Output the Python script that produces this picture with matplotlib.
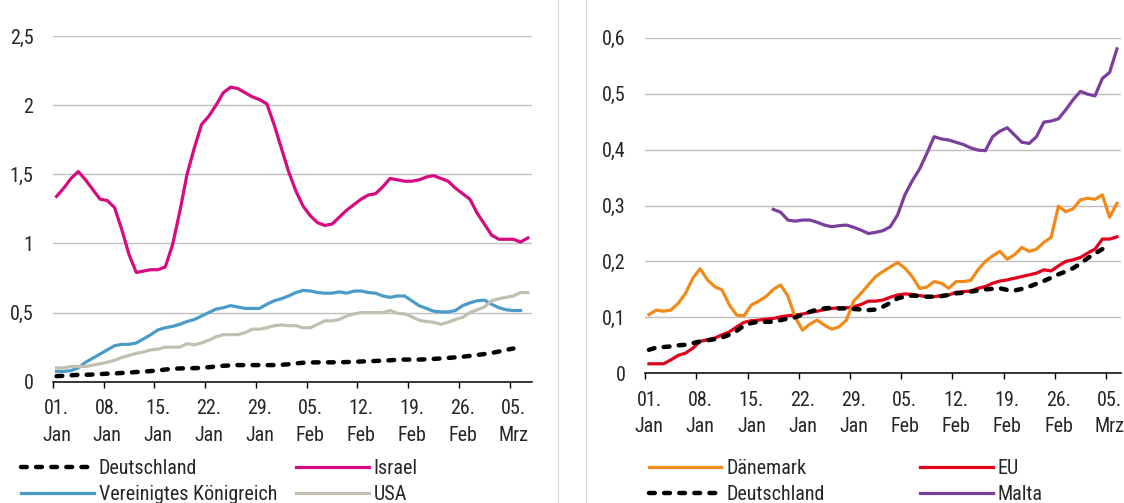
import matplotlib
matplotlib.use('Agg')
import matplotlib.pyplot as plt
from matplotlib.lines import Line2D
from matplotlib.legend import Legend
from matplotlib import font_manager as fm
import numpy as np

W, H = 1124, 503

# ---------------- data ----------------
xtick_labels = ["01.\nJan", "08.\nJan", "15.\nJan", "22.\nJan", "29.\nJan",
                "05.\nFeb", "12.\nFeb", "19.\nFeb", "26.\nFeb", "05.\nMrz"]

left_ytick_values = [0, 0.5, 1, 1.5, 2, 2.5]
left_ytick_labels = ["0", "0,5", "1", "1,5", "2", "2,5"]
right_ytick_values = [0, 0.1, 0.2, 0.3, 0.4, 0.5, 0.6]
right_ytick_labels = ["0", "0,1", "0,2", "0,3", "0,4", "0,5", "0,6"]

israel = [1.34, 1.40, 1.47, 1.52, 1.46, 1.39, 1.32, 1.31, 1.26, 1.10,
          0.92, 0.79, 0.80, 0.81, 0.81, 0.83, 0.99, 1.23, 1.50, 1.69,
          1.86, 1.92, 2.00, 2.09, 2.13, 2.12, 2.09, 2.06, 2.04, 2.01,
          1.86, 1.69, 1.52, 1.38, 1.27, 1.20, 1.15, 1.13, 1.14, 1.19,
          1.24, 1.28, 1.32, 1.35, 1.36, 1.41, 1.47, 1.46, 1.45, 1.45,
          1.46, 1.48, 1.49, 1.47, 1.45, 1.40, 1.36, 1.32, 1.22, 1.14,
          1.06, 1.03, 1.03, 1.03, 1.01, 1.04]

uk = [0.075, 0.075, 0.08, 0.10, 0.14, 0.17, 0.20, 0.23, 0.26, 0.27,
      0.27, 0.28, 0.31, 0.34, 0.375, 0.39, 0.40, 0.415, 0.435, 0.45,
      0.475, 0.50, 0.525, 0.535, 0.55, 0.54, 0.53, 0.53, 0.53, 0.56,
      0.585, 0.60, 0.62, 0.645, 0.66, 0.656, 0.645, 0.64, 0.64, 0.65,
      0.64, 0.655, 0.656, 0.645, 0.64, 0.62, 0.61, 0.62, 0.62, 0.585,
      0.55, 0.53, 0.51, 0.505, 0.505, 0.515, 0.55, 0.57, 0.585, 0.59,
      0.56, 0.535, 0.52, 0.515, 0.515]

usa = [0.10, 0.10, 0.11, 0.11, 0.11, 0.12, 0.13, 0.14, 0.155, 0.175,
       0.19, 0.205, 0.215, 0.23, 0.235, 0.25, 0.25, 0.25, 0.275, 0.267,
       0.28, 0.30, 0.325, 0.34, 0.34, 0.34, 0.355, 0.38, 0.38, 0.39,
       0.405, 0.41, 0.405, 0.405, 0.39, 0.39, 0.415, 0.44, 0.44, 0.45,
       0.475, 0.49, 0.50, 0.50, 0.50, 0.50, 0.515, 0.495, 0.49, 0.47,
       0.445, 0.435, 0.43, 0.415, 0.43, 0.45, 0.465, 0.50, 0.52, 0.54,
       0.585, 0.60, 0.61, 0.62, 0.645, 0.645]

deutschland_left = [0.04, 0.043, 0.046, 0.05, 0.05, 0.052, 0.055, 0.058, 0.06, 0.063,
                    0.066, 0.07, 0.073, 0.077, 0.082, 0.088, 0.093, 0.096, 0.097, 0.098,
                    0.10, 0.105, 0.11, 0.115, 0.118, 0.12, 0.12, 0.12, 0.12, 0.12,
                    0.12, 0.122, 0.126, 0.132, 0.137, 0.139, 0.14, 0.14, 0.14, 0.141,
                    0.142, 0.144, 0.146, 0.148, 0.15, 0.152, 0.155, 0.158, 0.16, 0.16,
                    0.16, 0.162, 0.165, 0.168, 0.172, 0.176, 0.18, 0.187, 0.193, 0.20,
                    0.208, 0.218, 0.23, 0.24]

daenemark = [0.105, 0.113, 0.111, 0.113, 0.125, 0.143, 0.17, 0.187, 0.167, 0.155,
             0.149, 0.122, 0.104, 0.103, 0.122, 0.129, 0.137, 0.15, 0.158, 0.138,
             0.10, 0.077, 0.088, 0.095, 0.086, 0.079, 0.083, 0.095, 0.129, 0.143,
             0.158, 0.173, 0.182, 0.19, 0.198, 0.188, 0.173, 0.152, 0.154, 0.164,
             0.161, 0.152, 0.164, 0.164, 0.166, 0.185, 0.20, 0.21, 0.218, 0.204,
             0.212, 0.225, 0.218, 0.222, 0.234, 0.243, 0.299, 0.289, 0.294, 0.31,
             0.313, 0.311, 0.319, 0.279, 0.304]

eu = [0.017, 0.017, 0.017, 0.024, 0.032, 0.036, 0.045, 0.057, 0.06, 0.063,
      0.069, 0.074, 0.083, 0.091, 0.094, 0.095, 0.097, 0.098, 0.101, 0.103,
      0.104, 0.106, 0.109, 0.111, 0.114, 0.116, 0.117, 0.117, 0.119, 0.123,
      0.129, 0.129, 0.131, 0.136, 0.14, 0.142, 0.141, 0.139, 0.137, 0.137,
      0.139, 0.14, 0.145, 0.146, 0.147, 0.152, 0.155, 0.161, 0.165, 0.167,
      0.17, 0.173, 0.176, 0.179, 0.185, 0.183, 0.192, 0.2, 0.203, 0.207,
      0.215, 0.222, 0.24, 0.24, 0.244]

deutschland_right = [0.042, 0.046, 0.047, 0.048, 0.05, 0.051, 0.054, 0.057, 0.059, 0.061,
                     0.064, 0.069, 0.076, 0.085, 0.09, 0.092, 0.092, 0.092, 0.095, 0.098,
                     0.10, 0.105, 0.11, 0.114, 0.116, 0.117, 0.116, 0.116, 0.115, 0.114,
                     0.113, 0.114, 0.119, 0.126, 0.134, 0.137, 0.139, 0.138, 0.137, 0.137,
                     0.138, 0.14, 0.143, 0.144, 0.146, 0.148, 0.15, 0.151, 0.152, 0.149,
                     0.148, 0.151, 0.155, 0.16, 0.165, 0.171, 0.177, 0.182, 0.188, 0.196,
                     0.206, 0.214, 0.222, 0.229]

malta_first_day = 17
malta = [0.293, 0.288, 0.274, 0.272,
         0.274, 0.274, 0.27, 0.265, 0.262, 0.264, 0.265, 0.261, 0.256,
         0.25, 0.252, 0.255, 0.262, 0.283, 0.319, 0.344, 0.365, 0.393, 0.423,
         0.419, 0.417, 0.413, 0.409, 0.403, 0.399, 0.398, 0.423, 0.433, 0.439,
         0.426, 0.413, 0.411, 0.423, 0.449, 0.451, 0.455, 0.471, 0.489, 0.504,
         0.499, 0.496, 0.527, 0.538, 0.58]

left_days = 66
right_days = 65

# ---------------- fonts ----------------
names = {f.name for f in fm.fontManager.ttflist}
if 'Roboto Condensed' in names:
    FAMILY = ['Roboto Condensed', 'DejaVu Sans']
    FS = 14.5
else:
    FAMILY = ['Liberation Sans', 'DejaVu Sans']
    FS = 12.5
plt.rcParams['font.family'] = FAMILY
TXT = '#262626'

C_ISR = '#D70A80'
C_UK = '#4A9BC7'
C_USA = '#C2BFB1'
C_DEN = '#F28A1A'
C_EU = '#E2001A'
C_MAL = '#7A3E9D'

fig = plt.figure(figsize=(W / 100, H / 100), dpi=100)
ax1 = fig.add_axes([52.9 / W, 1 - 381.7 / H, (531.5 - 52.9) / W, (381.7 - 36) / H])
ax2 = fig.add_axes([645.3 / W, 1 - 373.3 / H, (1120.6 - 645.3) / W, (373.3 - 37.7) / H])


def style(ax, n_days, yvals, ylabels):
    ax.set_xlim(-0.5, n_days - 0.5)
    ax.set_ylim(yvals[0], yvals[-1])
    ax.set_yticks(yvals)
    ax.set_yticklabels(ylabels)
    ax.grid(axis='y', color='#BFBFBF', lw=1.0)
    ax.set_axisbelow(True)
    for s in ['left', 'right', 'top']:
        ax.spines[s].set_visible(False)
    ax.spines['bottom'].set_color('#000000')
    ax.spines['bottom'].set_linewidth(1.1)
    ax.tick_params(axis='y', length=0, pad=14, labelsize=FS, labelcolor=TXT)
    major = np.arange(-0.5, n_days - 0.5, 7)
    ax.set_xticks(major)
    ax.set_xticklabels([''] * len(major))
    ax.tick_params(axis='x', which='major', length=4, width=1.0, color='#000000', direction='out')
    minor = np.arange(0, n_days, 7)[:len(xtick_labels)]
    ax.set_xticks(minor, minor=True)
    ax.set_xticklabels(xtick_labels, minor=True)
    ax.tick_params(axis='x', which='minor', length=0, pad=12.5, labelsize=FS, labelcolor=TXT)
    for t in ax.get_xticklabels(minor=True):
        t.set_linespacing(1.5)


style(ax1, left_days, left_ytick_values, left_ytick_labels)
style(ax2, right_days, right_ytick_values, right_ytick_labels)

LW = 2.3
DASH = (0, (1.3, 2.1))

# left panel
l_isr, = ax1.plot(np.arange(len(israel)), israel, color=C_ISR, lw=LW, label='Israel')
l_uk, = ax1.plot(np.arange(len(uk)), uk, color=C_UK, lw=LW, label='Vereinigtes Königreich')
l_usa, = ax1.plot(np.arange(len(usa)), usa, color=C_USA, lw=LW, label='USA')
l_de1, = ax1.plot(np.arange(len(deutschland_left)), deutschland_left, color='black', lw=3.2,
                  ls=DASH, dash_capstyle='round', label='Deutschland')

# right panel
l_eu, = ax2.plot(np.arange(len(eu)), eu, color=C_EU, lw=LW, label='EU')
l_den, = ax2.plot(np.arange(len(daenemark)), daenemark, color=C_DEN, lw=LW, label='Dänemark')
l_mal, = ax2.plot(np.arange(malta_first_day, malta_first_day + len(malta)), malta,
                  color=C_MAL, lw=LW, label='Malta')
l_de2, = ax2.plot(np.arange(len(deutschland_right)), deutschland_right, color='black', lw=3.2,
                  ls=DASH, dash_capstyle='round', label='Deutschland')


def col_legend(ax, handles, x_px, y_px):
    leg = Legend(ax, handles, [h.get_label() for h in handles], loc='center left',
                 bbox_to_anchor=(x_px / W, 1 - y_px / H), bbox_transform=fig.transFigure,
                 frameon=False, borderpad=0, borderaxespad=0, handlelength=3.6,
                 handletextpad=0.25, labelspacing=0.35, fontsize=FS, labelcolor=TXT)
    ax.add_artist(leg)


col_legend(ax1, [l_de1, l_uk], 21, 481.5)
col_legend(ax1, [l_isr, l_usa], 296, 481.5)
col_legend(ax2, [l_den, l_de2], 649, 481.5)
col_legend(ax2, [l_eu, l_mal], 920, 481.5)

for xp in (558, 586):
    fig.add_artist(Line2D([xp / W, xp / W], [0, 1], transform=fig.transFigure,
                          color='#D9D9D9', lw=0.8))

fig.savefig('out.png', dpi=100)
